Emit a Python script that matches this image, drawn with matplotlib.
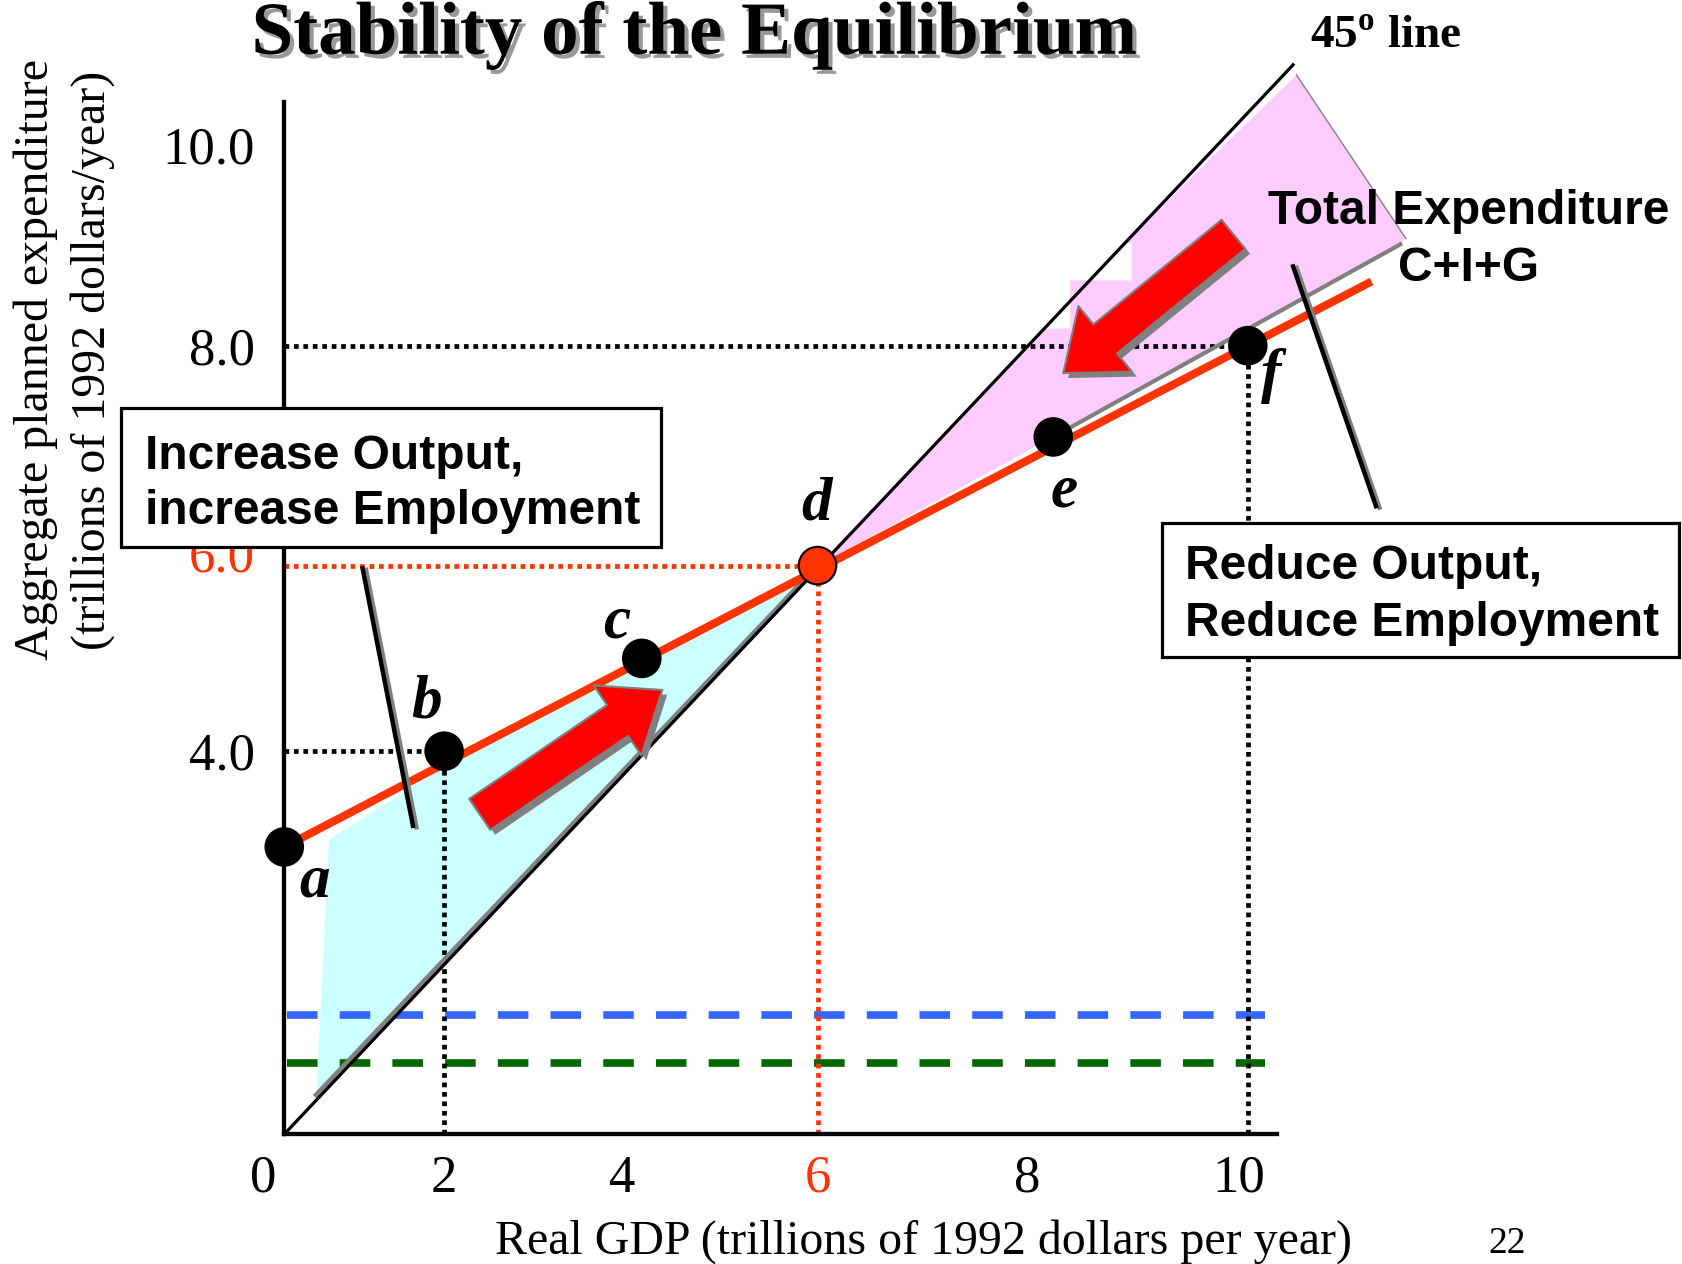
import numpy as np
import matplotlib
matplotlib.use("Agg")
import matplotlib.pyplot as plt
import matplotlib.patheffects as pe
from matplotlib.patches import Rectangle
from matplotlib.transforms import ScaledTranslation

plt.rcParams["font.family"] = ["Liberation Serif", "DejaVu Serif"]
plt.rcParams["mathtext.fontset"] = "custom"
plt.rcParams["mathtext.rm"] = "Liberation Serif"
plt.rcParams["mathtext.bf"] = "Liberation Serif:bold"

# === DATA (trillions of 1992 dollars) ===
# points on the total expenditure line
pt_names = ["a", "b", "c", "d", "e", "f"]
pt_x = [0.0, 2.0, 4.2, 6.0, 8.24, 10.0]
pt_y = [3.0, 4.0, 5.0, 6.0, 7.17, 8.0]

# C+I+G line and 45 degree line (end points)
ae_x = [0.0, 11.12]
ae_y = [3.0, 8.64]
line45_x = [0.0, 10.41]
line45_y = [0.0, 10.8]

# dotted guides from the axes to b, d, f
guide_x = [2.0, 6.0, 10.0]
guide_y = [4.0, 6.0, 8.0]

# horizontal dashed levels (blue, green)
dash_levels = [1.24, 0.74]
dash_x = [0.04, 10.16]

# shaded regions
cyan_x = [0.40, 0.56, 2.07, 6.0]
cyan_y = [0.41, 3.08, 3.87, 6.0]
pink_x = [6.0, 8.17, 8.39, 8.39, 8.95, 8.95, 8.88, 10.44, 11.43, 11.38, 8.24]
pink_y = [6.0, 8.17, 8.17, 8.65, 8.65, 9.02, 9.02, 10.7, 9.07, 9.01, 7.17]

# direction arrows (tail -> tip)
arrow_tail_x = [2.4, 9.87]
arrow_tail_y = [3.34, 9.11]
arrow_tip_x = [4.41, 8.33]
arrow_tip_y = [4.66, 7.75]

# leader lines from the text boxes
leader_x = [[0.98, 1.61], [11.16, 10.41]]
leader_y = [[5.97, 3.22], [6.54, 8.79]]

x_ticks = [0, 2, 4, 6, 8, 10]
x_ticklabels = ["0", "2", "4", "6", "8", "10"]
y_ticks = [4, 6, 8, 10]
y_ticklabels = ["4.0", "6.0", "8.0", "10.0"]

RED = "#FF3300"
GRAY = "#808080"

# the slide's axes are hand drawn: value -> position on the slide
x_marks = [0, 2, 4, 6, 8, 10]
x_marks_pos = [265, 414, 580, 762, 957, 1163]
y_marks = [0, 4, 6, 8, 10]
y_marks_pos = [-1057, -700, -527, -322, -135]


def stretch(src, dst):
    src = np.asarray(src, float)
    dst = np.asarray(dst, float)
    s0 = (dst[1] - dst[0]) / (src[1] - src[0])
    s1 = (dst[-1] - dst[-2]) / (src[-1] - src[-2])

    def f(v):
        v = np.asarray(v, float)
        out = np.interp(v, src, dst)
        out = np.where(v < src[0], dst[0] + (v - src[0]) * s0, out)
        out = np.where(v > src[-1], dst[-1] + (v - src[-1]) * s1, out)
        return out
    return f


W, H = 1568.0, 1178.0  # slide layout units


def slide(x, y):
    return x / W, 1 - y / H


# === FIGURE ===
fig = plt.figure(figsize=(16.82, 12.64), dpi=100)
ax = fig.add_axes([265 / W, 1 - 1057 / H, (1190 - 265) / W, (1057 - 95) / H])
ax.set_xscale("function", functions=(stretch(x_marks, x_marks_pos), stretch(x_marks_pos, x_marks)))
ax.set_yscale("function", functions=(stretch(y_marks, y_marks_pos), stretch(y_marks_pos, y_marks)))
ax.set_xlim(0, 10.26)
ax.set_ylim(0, 10.43)

# shaded regions
ax.fill(cyan_x, cyan_y, color="#CCFFFF", lw=0, zorder=1)
ax.fill(pink_x, pink_y, color="#FFCCFF", lw=0, zorder=1, clip_on=False)
ax.plot([cyan_x[0], pt_x[3]], [cyan_y[0], pt_y[3]], color=GRAY, lw=3.5, zorder=2.8)
ax.plot(pink_x[7:9], pink_y[7:9], color=GRAY, lw=1, zorder=2.8, clip_on=False)
ax.plot(pink_x[9:11], pink_y[9:11], color=GRAY, lw=3, zorder=2.8, clip_on=False)

# dashed levels
for lvl, col in zip(dash_levels, ["#3366FF", "#006600"]):
    ax.plot(dash_x, [lvl, lvl], color=col, lw=5.5, ls=(0, (4, 2.9)), zorder=2)

# dotted guides
for gx, gy in zip(guide_x, guide_y):
    col = RED if gx == pt_x[3] else "black"
    ax.plot([0, gx], [gy, gy], color=col, lw=3.4, ls=(0, (1, 1)), zorder=2.5)
    ax.plot([gx, gx], [0, gy], color=col, lw=3.4, ls=(0, (1, 1)), zorder=2.5)

# 45 degree line and total expenditure line
ax.plot(line45_x, line45_y, color="black", lw=2.3, zorder=3, clip_on=False)
ax.plot(ae_x, ae_y, color=RED, lw=5.8, zorder=3.5, clip_on=False, solid_capstyle="butt")

# leader lines
for lx, ly in zip(leader_x, leader_y):
    ax.plot(lx, ly, color="black", lw=3.2, zorder=4, clip_on=False,
            path_effects=[pe.SimpleLineShadow(offset=(2.5, -1), shadow_color=GRAY, alpha=1),
                          pe.Normal()])

# arrows
for tx, ty, hx, hy in zip(arrow_tail_x, arrow_tail_y, arrow_tip_x, arrow_tip_y):
    ax.annotate("", xy=(hx, hy), xytext=(tx, ty), annotation_clip=False, zorder=4.5,
                arrowprops=dict(arrowstyle="simple,head_length=3.9,head_width=6.1,tail_width=2.7",
                                mutation_scale=10, fc="#FF0000", ec=GRAY, lw=1.5,
                                shrinkA=0, shrinkB=0,
                                path_effects=[pe.SimplePatchShadow(offset=(3.5, -3.5),
                                                                   shadow_rgbFace=GRAY, alpha=1),
                                              pe.Normal()]))

# points
colors = [RED if n == "d" else "black" for n in pt_names]
ax.scatter(pt_x, pt_y, s=27 ** 2, c=colors, edgecolors="black", linewidths=1.5,
           zorder=5, clip_on=False)
label_offsets = {"a": (22, -25), "b": (-13, 35), "c": (-18, 26),
                 "d": (-1, 44), "e": (8, -39), "f": (17, -22)}
for n, x, y in zip(pt_names, pt_x, pt_y):
    ax.annotate(n, (x, y), xytext=label_offsets[n], textcoords="offset points",
                ha="center", va="center", fontsize=44, fontweight="bold",
                fontstyle="italic", zorder=6, annotation_clip=False)

# axes
ax.spines[["top", "right"]].set_visible(False)
ax.spines[["left", "bottom"]].set_linewidth(3.1)
ax.set_xticks(x_ticks, x_ticklabels)
ax.set_yticks(y_ticks, y_ticklabels)
ax.tick_params(which="both", length=0, labelsize=38)
ax.tick_params(axis="x", pad=15)
ax.tick_params(axis="y", pad=21)
ax.get_xticklabels()[3].set_color(RED)
ax.get_yticklabels()[1].set_color(RED)
for lbl, dx in zip(ax.get_xticklabels(), [-21.5, 0, 0, 0, 0, -8.6]):
    lbl.set_transform(lbl.get_transform() + ScaledTranslation(dx / 100, 0, fig.dpi_scale_trans))
lbl6 = ax.get_yticklabels()[1]
lbl6.set_transform(lbl6.get_transform() + ScaledTranslation(0, 0.13, fig.dpi_scale_trans))

ax.set_xlabel("Real GDP (trillions of 1992 dollars per year)", fontsize=34.5)
ax.xaxis.set_label_coords(0.644, -0.1153)
ax.xaxis.label.set_va("baseline")
ax.set_ylabel("Aggregate planned expenditure\n(trillions of 1992 dollars/year)",
              fontsize=34.5, linespacing=1.35)
ax.yaxis.set_label_coords(-0.222, 0.75)
ax.yaxis.label.set_va("center")

# title and texts
fig.text(0.413, 0.9575, "Stability of the Equilibrium", ha="center", va="baseline",
         fontsize=54, fontweight="bold",
         path_effects=[pe.SimplePatchShadow(offset=(3, -3), shadow_rgbFace="#999999", alpha=1),
                       pe.Normal()])
fig.text(0.7788, 0.962, r"45$^{\mathbf{o}}$ line", fontsize=34, fontweight="bold", va="baseline")
fig.text(0.873, 1 - 224 / 1264, "Total Expenditure", ha="center", va="baseline",
         fontsize=34.5, fontweight="bold", family="Liberation Sans")
fig.text(0.873, 1 - 281 / 1264, "C+I+G", ha="center", va="baseline",
         fontsize=34.5, fontweight="bold", family="Liberation Sans")
fig.text(0.896, 0.0087, "22", ha="center", va="baseline", fontsize=27)

# text boxes
boxes = [((113, 380, 616, 510), ["Increase Output,", "increase Employment"], 135, [437, 488]),
         ((1083, 487, 1565, 612), ["Reduce Output,", "Reduce Employment"], 1105, [540, 593])]
for (x0, y0, x1, y1), lines, tx, bases in boxes:
    bx, by = slide(x0, y1)
    fig.add_artist(Rectangle((bx, by), (x1 - x0) / W, (y1 - y0) / H, transform=fig.transFigure,
                             fc="white", ec="black", lw=2.3, zorder=5))
    for line, b in zip(lines, bases):
        fig.text(*slide(tx, b), line, va="baseline", fontsize=34.5, fontweight="bold",
                 family="Liberation Sans", zorder=6)

fig.savefig("out.png", dpi=100)
